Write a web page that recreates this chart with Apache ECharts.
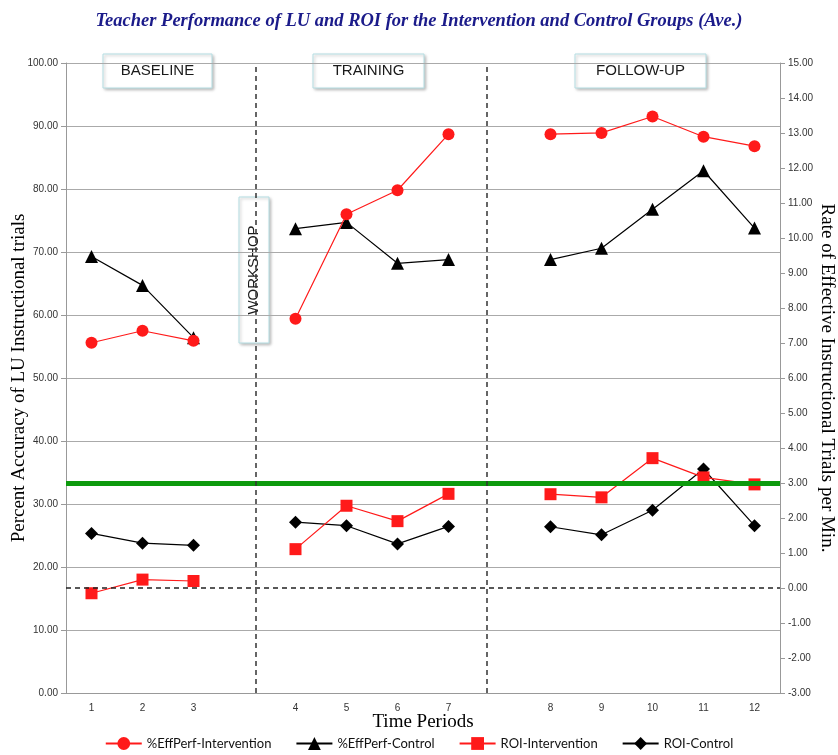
<!DOCTYPE html>
<html>
<head>
<meta charset="utf-8">
<script src="https://cdn.jsdelivr.net/npm/echarts@6/dist/echarts.min.js"></script>
<style>
html,body{margin:0;padding:0;background:#fff;}
#chart{width:838px;height:755px;}
</style>
</head>
<body>
<div id="chart"></div>
<script>
// ---- data ----
const categories = ['1','2','3','','4','5','6','7','','8','9','10','11','12'];
const effPerfIntervention = [55.6,57.5,55.9,null,59.4,76.0,79.8,88.7,null,88.7,88.9,91.5,88.3,86.8];
const effPerfControl      = [69.3,64.7,56.4,null,73.7,74.7,68.2,68.8,null,68.8,70.6,76.8,82.9,73.8];
const roiIntervention     = [-0.15,0.24,0.20,null,1.11,2.35,1.91,2.69,null,2.68,2.59,3.71,3.16,2.96];
const roiControl          = [1.56,1.28,1.22,null,1.88,1.78,1.26,1.76,null,1.75,1.52,2.22,3.40,1.78];
const phaseLabels = ['BASELINE','TRAINING','FOLLOW-UP','WORKSHOP'];
const criterionRate = 3;     // green criterion line (right axis)
const zeroRate = 0;          // dashed zero line (right axis)
const phaseDividers = [3.72, 8.25]; // in category-slot units

const chart = echarts.init(document.getElementById('chart'));

function box(x, y, w, h, label, vertical) {
  return {
    type: 'group', z: 100,
    children: [
      { type: 'rect', shape: { x: x, y: y, width: w, height: h },
        style: { fill: '#fff', stroke: '#b3dde2', lineWidth: 1,
                 shadowBlur: 3, shadowOffsetX: 1.5, shadowOffsetY: 1.5, shadowColor: 'rgba(0,0,0,0.25)' } },
      { type: 'text', x: x + w / 2, y: y + h / 2, rotation: vertical ? Math.PI / 2 : 0,
        style: { text: label, fill: '#1a1a1a', font: '15px "Liberation Sans", Arial, sans-serif',
                 align: 'center', verticalAlign: 'middle' } }
    ]
  };
}

const sym = { circle: 'circle', tri: 'triangle', sq: 'rect', dia: 'diamond' };

const option = {
  backgroundColor: '#fff',
  animation: false,
  title: {
    text: 'Teacher Performance of LU and ROI for the Intervention and Control Groups (Ave.)',
    left: 'center', top: 7,
    textStyle: { fontFamily: '"Liberation Serif", "Times New Roman", serif', fontWeight: 'bold',
                 fontStyle: 'italic', fontSize: 18.5, color: '#1b1b8a' }
  },
  legend: {
    bottom: 0, left: 'center', itemWidth: 36, itemHeight: 16, itemGap: 24,
    textStyle: { fontFamily: 'Lato, sans-serif', fontSize: 13, color: '#111' },
    data: ['%EffPerf-Intervention','%EffPerf-Control','ROI-Intervention','ROI-Control']
  },
  grid: { left: 66, right: 58, top: 63, bottom: 62, outerBoundsMode: 'none', containLabel: false },
  xAxis: [
    {
      type: 'category', data: categories, boundaryGap: true,
      name: 'Time Periods', nameLocation: 'middle', nameGap: 20, nameMoveOverlap: false,
      nameTextStyle: { fontFamily: '"Liberation Serif", serif', fontSize: 19, color: '#000' },
      axisLine: { lineStyle: { color: '#999', width: 1 } },
      axisTick: { alignWithLabel: true, length: 4, lineStyle: { color: '#999' } },
      axisLabel: { fontFamily: '"Liberation Sans", Arial, sans-serif', fontSize: 10, color: '#333', margin: 10, interval: 0 },
      splitLine: { show: false }
    },
    { type: 'value', min: 0, max: 14, show: false }
  ],
  yAxis: [
    {
      type: 'value', min: 0, max: 100, interval: 10,
      name: 'Percent Accuracy of LU Instructional trials', nameLocation: 'middle', nameGap: 37, nameRotate: 90,
      nameMoveOverlap: false,
      nameTextStyle: { fontFamily: '"Liberation Serif", serif', fontSize: 19, color: '#000' },
      axisLine: { show: true, lineStyle: { color: '#999' } },
      axisTick: { show: true, length: 5, lineStyle: { color: '#999' } },
      axisLabel: { formatter: v => v.toFixed(2), fontFamily: '"Liberation Sans", Arial, sans-serif', fontSize: 10, color: '#333', margin: 8 },
      splitLine: { show: true, lineStyle: { color: '#aaa', width: 1 } }
    },
    {
      type: 'value', min: -3, max: 15, interval: 1, position: 'right',
      name: 'Rate of Effective Instructional Trials per Min.', nameLocation: 'middle', nameGap: 37, nameRotate: -90,
      nameMoveOverlap: false,
      nameTextStyle: { fontFamily: '"Liberation Serif", serif', fontSize: 19, color: '#000' },
      axisLine: { show: true, lineStyle: { color: '#999' } },
      axisTick: { show: true, length: 5, lineStyle: { color: '#999' } },
      axisLabel: { formatter: v => v.toFixed(2), fontFamily: '"Liberation Sans", Arial, sans-serif', fontSize: 10, color: '#333', margin: 8 },
      splitLine: { show: false }
    }
  ],
  series: [
    {
      name: 'refLines', type: 'line', xAxisIndex: 0, yAxisIndex: 1, data: [], z: 1, silent: true,
      markLine: {
        symbol: 'none', silent: true, label: { show: false },
        data: [
          { yAxis: criterionRate, lineStyle: { color: '#0d9a0d', width: 5, type: 'solid' } },
          { yAxis: zeroRate, lineStyle: { color: '#222', width: 1.5, type: [5, 4] } }
        ]
      }
    },
    {
      name: 'dividers', type: 'line', xAxisIndex: 1, yAxisIndex: 0, data: [], z: 1, silent: true,
      markLine: {
        symbol: 'none', silent: true, label: { show: false },
        lineStyle: { color: '#333', width: 1.5, type: [5, 4] },
        data: phaseDividers.map(v => ({ xAxis: v }))
      }
    },
    {
      name: '%EffPerf-Intervention', type: 'line', yAxisIndex: 0, data: effPerfIntervention, z: 4,
      symbol: sym.circle, symbolSize: 12, connectNulls: false,
      itemStyle: { color: '#ff1a1a' }, lineStyle: { color: '#ff1a1a', width: 1.2 }
    },
    {
      name: '%EffPerf-Control', type: 'line', yAxisIndex: 0, data: effPerfControl, z: 3,
      symbol: sym.tri, symbolSize: 13, connectNulls: false,
      itemStyle: { color: '#000' }, lineStyle: { color: '#000', width: 1.2 }
    },
    {
      name: 'ROI-Intervention', type: 'line', yAxisIndex: 1, data: roiIntervention, z: 4,
      symbol: sym.sq, symbolSize: 12, connectNulls: false,
      itemStyle: { color: '#ff1a1a' }, lineStyle: { color: '#ff1a1a', width: 1.2 }
    },
    {
      name: 'ROI-Control', type: 'line', yAxisIndex: 1, data: roiControl, z: 3,
      symbol: sym.dia, symbolSize: 13, connectNulls: false,
      itemStyle: { color: '#000' }, lineStyle: { color: '#000', width: 1.2 }
    }
  ],
  graphic: [
    box(103, 54, 109, 34, phaseLabels[0], false),
    box(313, 54, 111, 34, phaseLabels[1], false),
    box(575, 54, 131, 34, phaseLabels[2], false),
    box(239, 197, 30, 146, phaseLabels[3], true)
  ]
};
chart.setOption(option);
</script>
</body>
</html>
